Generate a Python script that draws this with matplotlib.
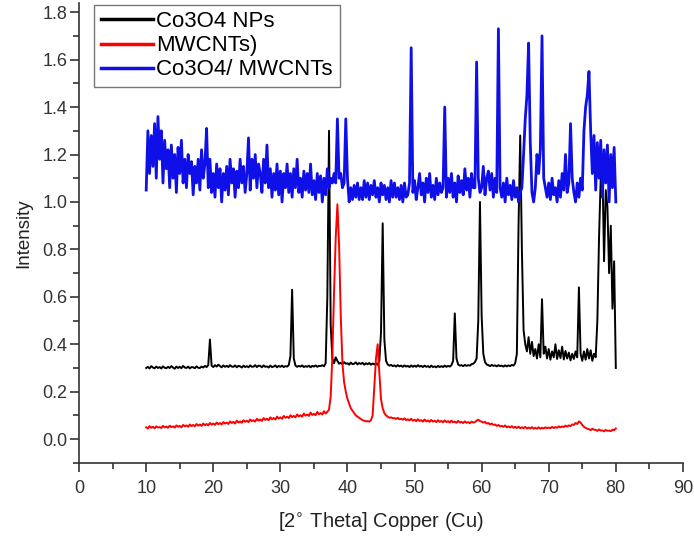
import numpy as np
import matplotlib
matplotlib.use("Agg")
import matplotlib.pyplot as plt
from matplotlib.ticker import MultipleLocator

plt.rcParams["font.family"] = ["Liberation Sans", "DejaVu Sans"]

# 2-theta grid of the scans (10..80 deg, 0.25 deg step)
two_theta = np.arange(10.0, 80.0 + 0.001, 0.25)

# Co3O4 NPs intensity, one row per degree
co3o4 = [
    .300, .305, .298, .308,  .302, .299, .306, .300,  .304, .298, .307, .301,
    .299, .305, .300, .308,  .302, .297, .306, .300,  .305, .299, .309, .302,
    .300, .306, .298, .304,  .303, .299, .307, .301,  .300, .306, .302, .309,
    .304, .312, .420, .310,  .304, .312, .306, .314,  .308, .303, .311, .305,
    .309, .304, .312, .306,  .305, .311, .303, .309,  .307, .302, .310, .304,
    .308, .303, .311, .305,  .306, .312, .304, .310,  .309, .303, .311, .305,
    .307, .302, .310, .304,  .306, .311, .303, .309,  .305, .310, .304, .308,
    .306, .312, .350, .630,  .340, .310, .305, .309,  .306, .311, .304, .308,
    .305, .310, .303, .309,  .306, .311, .305, .309,  .308, .312, .307, .320,
    .600, 1.30, .480, .340,  .320, .345, .330, .318,  .322, .316, .325, .318,
    .320, .314, .323, .316,  .318, .324, .315, .321,  .317, .322, .314, .320,
    .316, .321, .314, .319,  .315, .320, .313, .330,  .450, .910, .420, .330,
    .315, .310, .313, .308,  .311, .306, .312, .307,  .310, .305, .311, .306,
    .309, .304, .311, .305,  .310, .305, .312, .306,  .309, .304, .310, .305,
    .308, .303, .310, .304,  .307, .303, .309, .304,  .308, .304, .310, .305,
    .309, .306, .312, .330,  .530, .340, .315, .310,  .312, .308, .313, .309,
    .312, .310, .316, .318,  .325, .340, .500, 1.00,  .520, .360, .325, .315,
    .312, .308, .313, .309,  .311, .307, .312, .308,  .310, .306, .311, .307,
    .311, .308, .313, .310,  .320, .360, .900, 1.28,  .800, .460, .400, .370,
    .430, .360, .410, .350,  .380, .340, .400, .345,  .590, .360, .390, .340,
    .380, .335, .370, .345,  .400, .338, .375, .342,  .390, .336, .372, .340,
    .365, .332, .360, .338,  .370, .345, .640, .360,  .330, .370, .335, .380,
    .340, .375, .330, .360,  .345, .500, .850, 1.10,  1.15, .750, 1.05, .980,
    .700, .900, .550, .750,  .300,
]

# MWCNTs intensity
mwcnt = [
    .050, .045, .055, .048,  .052, .046, .054, .049,  .051, .047, .056, .050,
    .053, .048, .057, .051,  .054, .049, .058, .052,  .056, .050, .060, .054,
    .058, .052, .062, .055,  .060, .054, .064, .057,  .062, .056, .066, .059,
    .064, .058, .068, .061,  .066, .060, .070, .063,  .068, .062, .072, .066,
    .070, .064, .075, .068,  .073, .066, .078, .070,  .075, .069, .080, .073,
    .078, .072, .083, .076,  .080, .074, .086, .078,  .083, .077, .089, .081,
    .086, .080, .092, .084,  .089, .083, .095, .087,  .092, .086, .098, .090,
    .095, .089, .101, .093,  .098, .092, .104, .096,  .101, .095, .108, .099,
    .104, .098, .112, .102,  .107, .101, .115, .105,  .110, .104, .118, .108,
    .115, .125, .180, .350,  .620, .850, .990, .820,  .520, .320, .240, .200,
    .170, .150, .130, .120,  .110, .100, .095, .090,  .085, .080, .078, .075,
    .076, .074, .080, .100,  .220, .340, .400, .280,  .170, .130, .110, .100,
    .095, .090, .092, .088,  .089, .085, .090, .084,  .086, .082, .088, .080,
    .084, .079, .086, .078,  .082, .076, .084, .077,  .080, .074, .083, .075,
    .079, .073, .081, .074,  .078, .072, .080, .073,  .077, .071, .079, .072,
    .076, .070, .078, .071,  .074, .069, .077, .070,  .073, .068, .075, .069,
    .072, .067, .074, .070,  .072, .078, .082, .076,  .074, .070, .073, .066,
    .068, .062, .066, .060,  .062, .056, .060, .054,  .056, .052, .058, .050,
    .054, .049, .055, .048,  .052, .047, .053, .046,  .050, .046, .052, .045,
    .049, .045, .051, .044,  .048, .044, .050, .044,  .048, .045, .050, .046,
    .049, .046, .052, .047,  .051, .048, .054, .050,  .054, .051, .057, .053,
    .058, .055, .062, .060,  .068, .064, .075, .070,  .060, .052, .048, .044,
    .042, .038, .044, .040,  .039, .035, .041, .036,  .037, .033, .039, .035,
    .036, .034, .040, .038,  .045,
]

# Co3O4/MWCNTs intensity
composite = [
    1.05, 1.30, 1.12, 1.28,  1.15, 1.33, 1.10, 1.36,  1.18, 1.30, 1.08, 1.26,
    1.14, 1.22, 1.06, 1.24,  1.10, 1.20, 1.04, 1.23,  1.12, 1.26, 1.08, 1.18,
    1.06, 1.20, 1.12, 1.17,  1.03, 1.15, 1.08, 1.18,  1.05, 1.22, 1.10, 1.16,
    1.31, 1.06, 1.18, 1.04,  1.12, 1.02, 1.16, 1.06,  1.14, 1.00, 1.12, 1.05,
    1.15, 1.03, 1.18, 1.08,  1.14, 1.02, 1.13, 1.06,  1.18, 1.08, 1.15, 1.04,
    1.12, 1.27, 1.05, 1.18,  1.10, 1.20, 1.06, 1.16,  1.12, 1.04, 1.18, 1.08,
    1.24, 1.06, 1.14, 1.02,  1.12, 1.05, 1.16, 1.03,  1.13, 1.00, 1.12, 1.06,
    1.16, 1.04, 1.12, 1.02,  1.14, 1.06, 1.18, 1.04,  1.10, 1.02, 1.13, 1.05,
    1.12, 1.04, 1.16, 1.03,  1.09, 1.01, 1.12, 1.04,  1.11, 1.00, 1.10, 1.03,
    1.14, 1.06, 1.10, 1.08,  1.12, 1.08, 1.35, 1.10,  1.12, 1.06, 1.08, 1.35,
    1.10, 1.00, 1.06, 1.01,  1.07, 1.02, 1.08, 1.01,  1.06, 1.01, 1.09, 1.02,
    1.08, 1.01, 1.07, 1.03,  1.09, 1.02, 1.06, 1.00,  1.08, 1.03, 1.07, 1.01,
    1.06, 1.00, 1.09, 1.02,  1.08, 1.02, 1.06, 1.01,  1.07, 1.00, 1.08, 1.02,
    1.03, 1.08, 1.65, 1.04,  1.09, 1.01, 1.06, 1.12,  1.03, 1.08, 1.00, 1.10,
    1.04, 1.12, 1.02, 1.07,  1.01, 1.10, 1.03, 1.08,  1.04, 1.06, 1.40, 1.02,
    1.10, 1.04, 1.12, 1.02,  1.08, 1.00, 1.11, 1.04,  1.09, 1.03, 1.14, 1.05,
    1.10, 1.02, 1.12, 1.06,  1.06, 1.59, 1.10, 1.04,  1.06, 1.15, 1.03, 1.10,
    1.13, 1.05, 1.12, 1.02,  1.10, 1.04, 1.73, 1.06,  1.02, 1.08, 1.00, 1.10,
    1.03, 1.07, 1.01, 1.09,  1.02, 1.06, 1.00, 1.04,  1.06, 1.20, 1.35, 1.45,
    1.67, 1.25, 1.04, 1.00,  1.06, 1.20, 1.12, 1.22,  1.70, 1.10, 1.06, 1.02,
    1.08, 1.01, 1.10, 1.03,  1.06, 1.00, 1.09, 1.02,  1.12, 1.05, 1.20, 1.04,
    1.08, 1.33, 1.10, 1.04,  1.00, 1.08, 1.02, 1.10,  1.05, 1.30, 1.40, 1.45,
    1.55, 1.30, 1.12, 1.28,  1.05, 1.25, 1.10, 1.26,  1.02, 1.22, 1.08, 1.24,
    1.00, 1.20, 1.06, 1.23,  1.00,
]

fig = plt.figure(figsize=(6.94, 5.37), dpi=100)
ax = fig.add_axes([0.114, 0.138, 0.870, 0.857])

ax.plot(two_theta, co3o4, color="black", lw=1.4, label="Co3O4 NPs")
ax.plot(two_theta, mwcnt, color="red", lw=1.4, label="MWCNTs)")
ax.plot(two_theta, composite, color="#0f0fe8", lw=2.0, label="Co3O4/ MWCNTs")

ax.set_xlim(0, 90)
ax.set_ylim(-0.1, 1.84)
ax.xaxis.set_major_locator(MultipleLocator(10))
ax.xaxis.set_minor_locator(MultipleLocator(5))
ax.yaxis.set_minor_locator(MultipleLocator(0.1))
ax.set_yticks(np.arange(0, 1.81, 0.2))
ax.set_yticklabels([f"{v:.1f}" for v in np.arange(0, 1.81, 0.2)])

for s in ["top", "right"]:
    ax.spines[s].set_visible(False)
for s in ["left", "bottom"]:
    ax.spines[s].set_color("#333333")
    ax.spines[s].set_linewidth(1.2)
ax.tick_params(which="major", direction="out", length=6.5, width=1.2,
               colors="#333333", labelsize=13)
ax.tick_params(axis="x", which="major", pad=6)
ax.tick_params(axis="y", which="major", pad=2)
ax.tick_params(which="minor", direction="out", length=4, width=1.2,
               colors="#333333")

ax.set_xlabel("[2$^{\\circ}$ Theta] Copper (Cu)", fontsize=14.5, labelpad=9,
              color="#222222")
ax.set_ylabel("Intensity", fontsize=13.5, color="#222222", labelpad=7)

leg = ax.legend(loc="upper left", bbox_to_anchor=(0.025, 0.996), fontsize=16,
                frameon=True, fancybox=False, handlelength=2.35,
                borderpad=0.3, labelspacing=0.14, handletextpad=0.15,
                borderaxespad=0.0)
leg.get_frame().set_edgecolor("#555555")
leg.get_frame().set_linewidth(1.0)
for line in leg.get_lines():
    line.set_linewidth(2.5)

fig.savefig("out.png", dpi=100)
